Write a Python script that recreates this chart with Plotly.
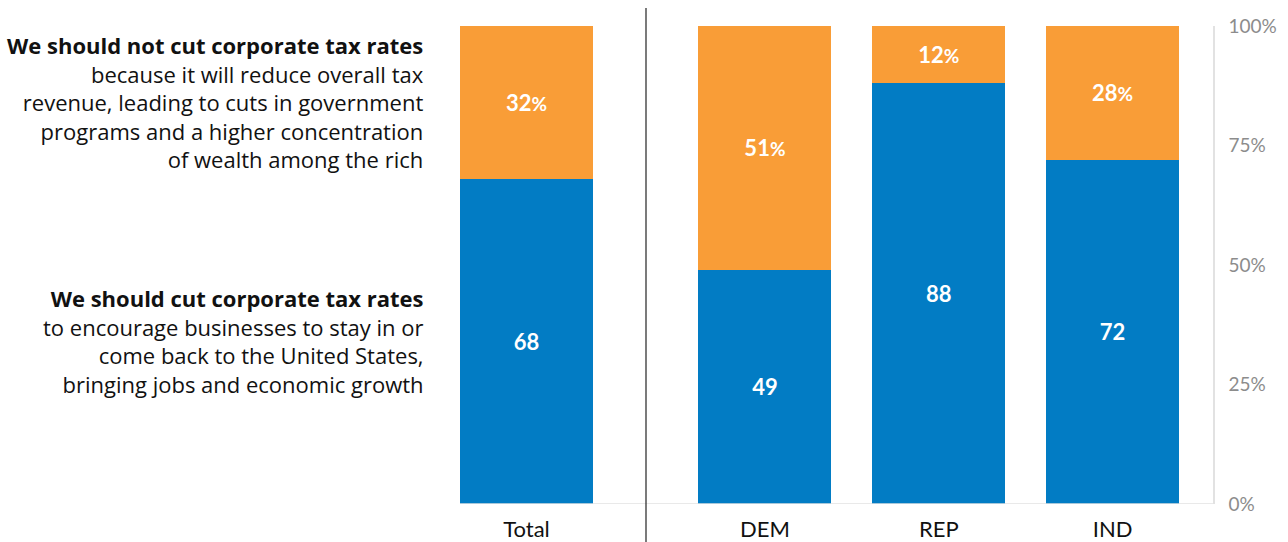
import plotly.graph_objects as go

# Survey results: share who say cut vs. not cut corporate tax rates
categories = ["Total", "DEM", "REP", "IND"]
cut_rates = [68, 49, 88, 72]
not_cut_rates = [32, 51, 12, 28]
y_tick_vals = [0, 25, 50, 75, 100]
y_tick_text = ["0%", "25%", "50%", "75%", "100%"]

BLUE = "#027cc4"
ORANGE = "#f99d37"
W, H = 1288, 542
FONT = "Lato"
TEXT_FONT = "Open Sans"

def px(x):
    return x / W

fig = go.Figure()

# Total on the first x-axis, party breakdown on the second
groups = [("x", categories[:1], cut_rates[:1], not_cut_rates[:1]),
          ("x2", categories[1:], cut_rates[1:], not_cut_rates[1:])]
for xa, cats, cut, notcut in groups:
    fig.add_trace(go.Bar(
        x=cats, y=cut, xaxis=xa, yaxis="y", marker=dict(color=BLUE, line_width=0),
        text=[str(v) for v in cut], textposition="inside", insidetextanchor="middle",
        textfont=dict(family=FONT, size=22, color="white", weight="bold"),
        showlegend=False, hoverinfo="skip"))
    fig.add_trace(go.Bar(
        x=cats, y=notcut, xaxis=xa, yaxis="y", marker=dict(color=ORANGE, line_width=0),
        text=[f"{v}<span style='font-size:19px'>%</span>" for v in notcut],
        textposition="inside", insidetextanchor="middle",
        textfont=dict(family=FONT, size=22, color="white", weight="bold"),
        showlegend=False, hoverinfo="skip"))

axis_common = dict(showgrid=False, zeroline=False, showline=False, ticks="",
                   ticklabelstandoff=10, automargin=False,
                   tickfont=dict(family=FONT, size=22, color="#111"), fixedrange=True)
fig.update_layout(
    width=W, height=H,
    margin=dict(l=0, r=0, t=26, b=38),
    paper_bgcolor="white", plot_bgcolor="white",
    barmode="stack", bargap=0.235,
    xaxis=dict(domain=[px(439.5), px(613.5)], anchor="y", **axis_common),
    xaxis2=dict(domain=[px(678), px(1199.5)], anchor="y", **axis_common),
    yaxis=dict(range=[0, 100], anchor="free", position=px(1214), side="right",
               showline=True, linecolor="#e2e2e2", linewidth=1.5, automargin=False,
               tickvals=y_tick_vals, ticktext=y_tick_text, ticks="",
               ticklabelstandoff=10, showgrid=False, zeroline=False,
               tickfont=dict(family=FONT, size=19, color="#8c8c8c"), fixedrange=True),
    shapes=[
        # baseline under the bars
        dict(type="line", xref="paper", yref="y", x0=px(460), x1=px(1214), y0=0, y1=0,
             line=dict(color="#e2e2e2", width=1.5)),
        # divider between total and party groups
        dict(type="line", xref="paper", yref="paper", x0=px(646), x1=px(646),
             y0=(504 - 542) / 478, y1=(504 - 8) / 478, line=dict(color="#222", width=1.2)),
    ],
    annotations=[
        dict(xref="paper", yref="y", x=px(426), y=100 - not_cut_rates[0] / 2,
             xanchor="right", yanchor="middle", align="right", showarrow=False,
             text="<b>We should not cut corporate tax rates</b><br>because it will reduce overall tax<br>"
                  "revenue, leading to cuts in government<br>programs and a higher concentration<br>"
                  "of wealth among the rich",
             font=dict(family=TEXT_FONT, size=22, color="#111")),
        dict(xref="paper", yref="y", x=px(426), y=cut_rates[0] / 2,
             xanchor="right", yanchor="middle", align="right", showarrow=False,
             text="<b>We should cut corporate tax rates</b><br>to encourage businesses to stay in or<br>"
                  "come back to the United States,<br>bringing jobs and economic growth",
             font=dict(family=TEXT_FONT, size=22, color="#111")),
    ],
)

fig.write_html("out.html")
